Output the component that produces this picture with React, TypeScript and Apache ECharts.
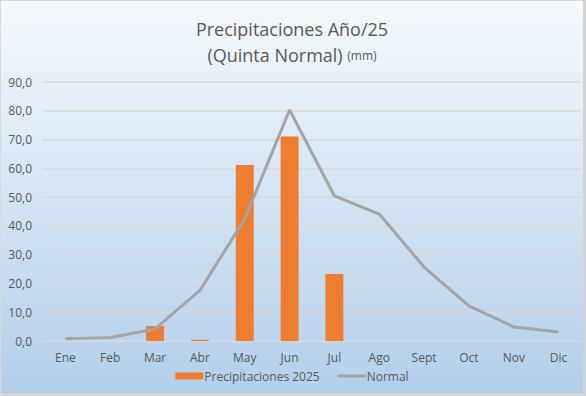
import React, { useEffect, useRef } from "react";
import * as echarts from "echarts";

const months = ["Ene", "Feb", "Mar", "Abr", "May", "Jun", "Jul", "Ago", "Sept", "Oct", "Nov", "Dic"];
const precip2025 = [null, null, 5.2, 0.4, 61.2, 71.1, 23.3, null, null, null, null, null];
const normal = [0.8, 1.2, 4.2, 17.6, 42.4, 80.3, 50.4, 44.1, 25.7, 12.2, 4.9, 3.1];

const FONT = "'Open Sans', 'Liberation Sans', sans-serif";

export default function App() {
  const ref = useRef<HTMLDivElement>(null);
  useEffect(() => {
    document.body.style.margin = "0";
    const chart = echarts.init(ref.current!, undefined, { renderer: "svg" });
    chart.setOption({
      animation: false,
      backgroundColor: {
        type: "linear",
        x: 0, y: 0, x2: 0, y2: 1,
        colorStops: [
          { offset: 0, color: "#f5f9fd" },
          { offset: 1, color: "#b2cfeb" },
        ],
      },
      title: {
        left: "center",
        top: 10,
        text: "Precipitaciones Año/25\n(Quinta Normal) {s|(mm)}",
        textStyle: {
          fontFamily: FONT,
          fontSize: 18,
          fontWeight: "normal",
          color: "#595959",
          lineHeight: 26,
          rich: {
            s: { fontSize: 12, fontFamily: FONT, color: "#595959", lineHeight: 26 },
          },
        },
      },
      legend: {
        left: "center",
        top: 364,
        itemGap: 18,
        itemWidth: 28,
        itemHeight: 7,
        symbolKeepAspect: true,
        textStyle: { fontFamily: FONT, fontSize: 12, color: "#595959", padding: [0, 0, 0, -4] },
        data: [
          { name: "Precipitaciones 2025", icon: "rect", itemStyle: { color: "#ed7d31" } },
          { name: "Normal", icon: "path://M0,0L28,0L28,3L0,3Z", itemStyle: { color: "#a5a5a5" } },
        ],
      },
      grid: { left: 42, right: 2, top: 81, bottom: 52, containLabel: false },
      xAxis: {
        type: "category",
        data: months,
        axisLine: { show: false },
        axisTick: { show: false },
        axisLabel: { fontFamily: FONT, fontSize: 12, color: "#595959", margin: 10 },
      },
      yAxis: {
        type: "value",
        min: 0,
        max: 90,
        interval: 10,
        axisLine: { show: false },
        axisTick: { show: false },
        axisLabel: {
          fontFamily: FONT,
          fontSize: 12,
          color: "#595959",
          margin: 11,
          formatter: (v: number) => v.toFixed(1).replace(".", ","),
        },
        splitLine: { lineStyle: { color: "#d9d9d9", width: 1.5 } },
      },
      series: [
        {
          name: "Precipitaciones 2025",
          type: "bar",
          data: precip2025,
          barWidth: "40%",
          itemStyle: { color: "#ed7d31" },
        },
        {
          name: "Normal",
          type: "line",
          data: normal,
          symbol: "none",
          lineStyle: { color: "#a5a5a5", width: 3 },
          itemStyle: { color: "#a5a5a5" },
        },
      ],
    });
    return () => chart.dispose();
  }, []);
  return (
    <div
      style={{
        position: "absolute",
        left: 0,
        top: 0,
        width: 586,
        height: 396,
        boxSizing: "border-box",
        borderLeft: "1px solid #d9d9d9",
        borderTop: "1px solid #d9d9d9",
        borderRight: "3px solid #d4d4d4",
        borderBottom: "3px solid #d4d4d4",
      }}
    >
      <div ref={ref} style={{ width: "100%", height: "100%" }} />
    </div>
  );
}
